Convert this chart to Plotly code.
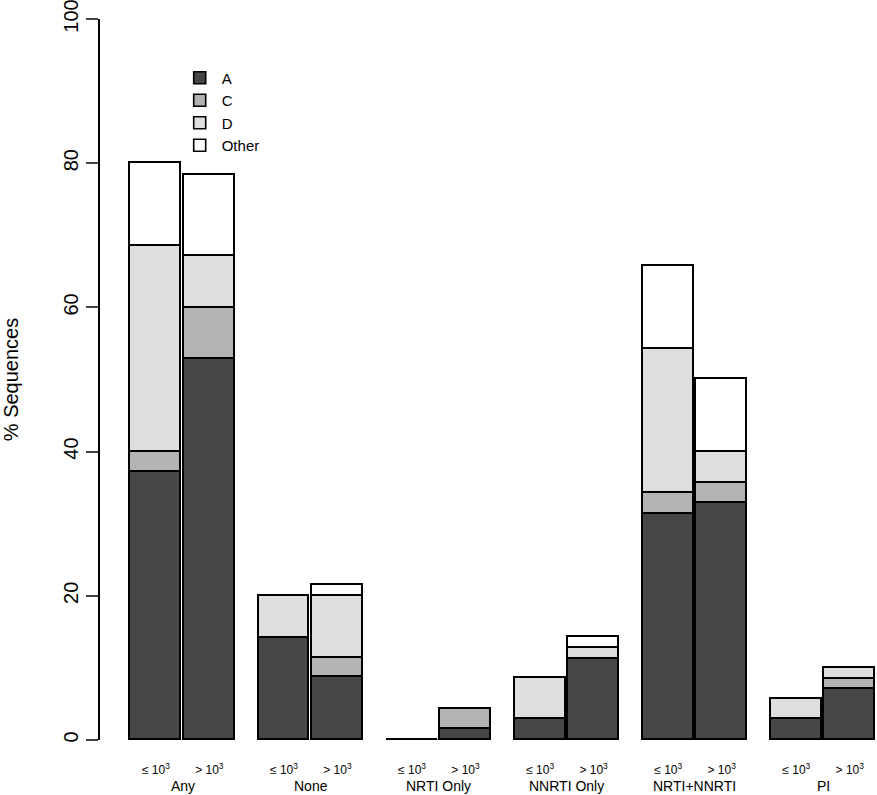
import plotly.graph_objects as go

groups = ["Any", "None", "NRTI Only", "NNRTI Only", "NRTI+NNRTI", "PI"]
levels = ["\u2264 10<sup>3</sup>", "> 10<sup>3</sup>"]

# values per bar, order: group0-<=, group0->, group1-<=, ...
A_vals     = [37.2, 52.8, 14.1, 8.7, 0.0, 1.5, 2.9, 11.3, 31.3, 32.9, 2.9, 7.1]
C_vals     = [2.7, 7.1, 0.0, 2.7, 0.0, 2.8, 0.0, 0.0, 3.0, 2.8, 0.0, 1.4]
D_vals     = [28.6, 7.2, 5.9, 8.6, 0.0, 0.0, 5.7, 1.5, 19.9, 4.2, 2.8, 1.5]
Other_vals = [11.5, 11.3, 0.0, 1.5, 0.0, 0.0, 0.0, 1.5, 11.6, 10.2, 0.0, 0.0]

series = [("A", A_vals, "#474747"), ("C", C_vals, "#b3b3b3"),
          ("D", D_vals, "#dedede"), ("Other", Other_vals, "#ffffff")]

GROUP_STEP = 2.516
PAIR_STEP = 1.05
xpos = [g * GROUP_STEP + j * PAIR_STEP for g in range(len(groups)) for j in range(2)]
tick_text = [levels[j] for g in range(len(groups)) for j in range(2)]
group_centers = [g * GROUP_STEP + PAIR_STEP / 2 for g in range(len(groups))]

fig = go.Figure()
for name, vals, col in series:
    fig.add_trace(go.Bar(
        x=xpos, y=vals, name=name, width=1.0,
        marker=dict(color=col, line=dict(color="black", width=1.6)),
    ))

# outline for zero-height bars (as R draws)
totals = [sum(v[i] for _, v, _ in series) for i in range(len(xpos))]
for i, t in enumerate(totals):
    if t == 0:
        fig.add_trace(go.Scatter(x=[xpos[i] - 0.5, xpos[i] + 0.5], y=[0, 0], mode="lines",
                                 line=dict(color="black", width=2), showlegend=False,
                                 hoverinfo="skip", cliponaxis=False))

for gx, gname in zip(group_centers, groups):
    fig.add_annotation(x=gx, y=0, xref="x", yref="paper", yshift=-46, yanchor="middle",
                       text=gname, showarrow=False, font=dict(size=14, color="black"))

fig.update_layout(
    width=877, height=795,
    barmode="stack", bargap=0,
    plot_bgcolor="white", paper_bgcolor="white",
    margin=dict(l=100, r=0, t=19, b=55),
    font=dict(family="Liberation Sans, Arial, sans-serif", color="black"),
    showlegend=True,
    legend=dict(x=0.1, y=0.941, xanchor="left", yanchor="top", traceorder="normal",
                font=dict(size=15), bgcolor="rgba(0,0,0,0)", itemwidth=34,
                tracegroupgap=0),
    xaxis=dict(range=[-1.098, 14.165], tickmode="array", tickvals=xpos, ticktext=tick_text,
               showline=False, showgrid=False, zeroline=False, ticks="",
               tickfont=dict(size=12), ticklabelstandoff=21, fixedrange=True,
               automargin=False),
    yaxis=dict(range=[0, 100], tickvals=[0, 20, 40, 60, 80, 100], ticks="outside",
               ticklen=12, tickwidth=1.5, showline=True, linewidth=1.5, linecolor="black",
               showgrid=False, zeroline=False, tickangle=-90, tickfont=dict(size=20),
               ticklabelstandoff=0, ticklabeloverflow="allow", automargin=False,
               fixedrange=True,
               title=dict(text="% Sequences", font=dict(size=20), standoff=40)),
)

fig.write_html("out.html", config={"displayModeBar": False},
               post_script="document.body.style.margin='0px';")
